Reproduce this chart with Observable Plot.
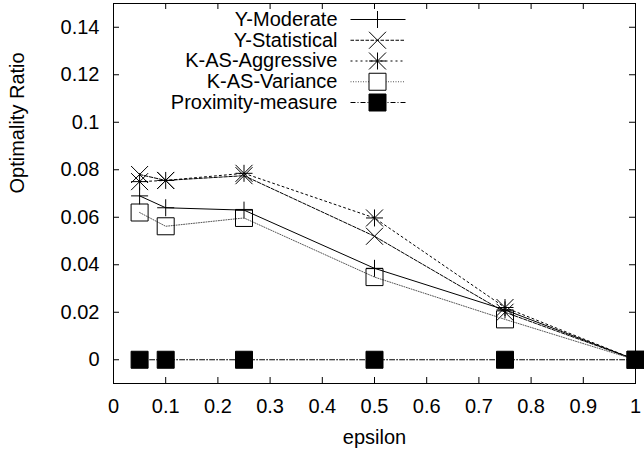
<!DOCTYPE html>
<html>
<head>
<meta charset="utf-8">
<script src="https://cdn.jsdelivr.net/npm/d3@7"></script>
<script src="https://cdn.jsdelivr.net/npm/@observablehq/plot@0.6"></script>
<style>
  html, body { margin: 0; padding: 0; background: white; }
  #chart { width: 644px; height: 451px; }
</style>
</head>
<body>
<div id="chart"></div>
<script>
// ---- data ----
const epsilon = [0.05, 0.1, 0.25, 0.5, 0.75, 1.0];
const seriesNames = ["Y-Moderate", "Y-Statistical", "K-AS-Aggressive", "K-AS-Variance", "Proximity-measure"];
const yModerate     = [0.069, 0.064, 0.063, 0.0385, 0.021, 0];
const yStatistical  = [0.078, 0.0755, 0.0775, 0.052, 0.020, 0];
const kasAggressive = [0.075, 0.0755, 0.0785, 0.0597, 0.022, 0];
const kasVariance   = [0.062, 0.0562, 0.0597, 0.0348, 0.017, 0];
const proximity     = [0, 0, 0, 0, 0, 0];
const xTicks = [0, 0.1, 0.2, 0.3, 0.4, 0.5, 0.6, 0.7, 0.8, 0.9, 1];
const yTicks = [0, 0.02, 0.04, 0.06, 0.08, 0.1, 0.12, 0.14];
const xLabel = "epsilon";
const yLabel = "Optimality Ratio";

// ---- symbols (gnuplot-like) ----
const H = 8.5;
const symPlus = {draw(c) { c.moveTo(-H, 0); c.lineTo(H, 0); c.moveTo(0, -H); c.lineTo(0, H); }};
const symTimes = {draw(c) { c.moveTo(-H, -H); c.lineTo(H, H); c.moveTo(-H, H); c.lineTo(H, -H); }};
const symStar = {draw(c) { symPlus.draw(c); symTimes.draw(c); }};
const symSquare = {draw(c) { c.moveTo(-H, -H); c.lineTo(H, -H); c.lineTo(H, H); c.lineTo(-H, H); c.closePath(); }};
const symSampleLine = {draw(c) { c.moveTo(-27, 0); c.lineTo(28, 0); }};

const values = [yModerate, yStatistical, kasAggressive, kasVariance, proximity];
const styles = [
  {dash: null,        symbol: symPlus,   fill: "none",  stroke: "black"},
  {dash: "3.5,1.5",   symbol: symTimes,  fill: "none",  stroke: "black"},
  {dash: "2,3",       symbol: symStar,   fill: "none",  stroke: "black"},
  {dash: "1,1.5",     symbol: symSquare, fill: "none",  stroke: "black"},
  {dash: "5,2,1,2",   symbol: symSquare, fill: "black", stroke: "black"}
];

const rows = [];
seriesNames.forEach((name, i) => {
  epsilon.forEach((e, j) => rows.push({series: name, i, x: e, y: values[i][j]}));
});

const FS = 20;
const marks = [];
// inward ticks
const pw = 644 - 113 - 9, ph = 451 - 3 - 68, tl = 6;
marks.push(Plot.ruleY(yTicks, {insetRight: pw - tl, stroke: "black"}));
marks.push(Plot.ruleY(yTicks, {insetLeft: pw - tl, stroke: "black"}));
marks.push(Plot.ruleX(xTicks, {insetTop: ph - tl, stroke: "black"}));
marks.push(Plot.ruleX(xTicks, {insetBottom: ph - tl, stroke: "black"}));

seriesNames.forEach((name, i) => {
  const st = styles[i];
  const data = rows.filter(d => d.i === i);
  marks.push(Plot.line(data, {x: "x", y: "y", stroke: i === 3 ? "#555" : "black", strokeWidth: 1, strokeDasharray: st.dash}));
  marks.push(Plot.dot(data, {x: "x", y: "y", r: 5, symbol: st.symbol, fill: st.fill, stroke: st.stroke, strokeWidth: 1}));
  // legend
  const rowDy = 16 + 20.75 * i;
  marks.push(Plot.text([name], {frameAnchor: "top-left", dx: 224, dy: rowDy, textAnchor: "end", lineAnchor: "middle", fill: "black", fontSize: FS}));
  marks.push(Plot.dot([name], {frameAnchor: "top-left", dx: 264, dy: rowDy, r: 5, symbol: symSampleLine, fill: "none", stroke: i === 3 ? "#555" : "black", strokeWidth: 1, strokeDasharray: st.dash}));
  marks.push(Plot.dot([name], {frameAnchor: "top-left", dx: 264, dy: rowDy, r: 5, symbol: st.symbol, fill: st.fill === "none" ? "white" : st.fill, stroke: st.stroke, strokeWidth: 1}));
});

marks.push(Plot.frame({stroke: "black", strokeWidth: 1}));
marks.push(Plot.axisY(yTicks, {tickSize: 0, tickPadding: 14, tickFormat: d => String(+d.toFixed(2)), fontSize: FS, label: null}));
marks.push(Plot.axisX(xTicks, {tickSize: 0, tickPadding: 15, tickFormat: d => String(+d.toFixed(1)), fontSize: FS, label: null}));
marks.push(Plot.text([xLabel], {frameAnchor: "bottom", dy: 53.6, lineAnchor: "middle", fontSize: FS, fill: "black"}));
marks.push(Plot.text([yLabel], {frameAnchor: "left", dx: -96.4, rotate: -90, lineAnchor: "middle", fontSize: FS, fill: "black"}));

const chart = Plot.plot({
  width: 644,
  height: 451,
  marginLeft: 113,
  marginRight: 9,
  marginTop: 3,
  marginBottom: 68,
  style: {fontFamily: "'Liberation Sans', Arial, sans-serif", fontSize: "20px", background: "white", color: "black"},
  x: {domain: [0, 1]},
  y: {domain: [-0.01, 0.15]},
  marks
});
document.getElementById("chart").appendChild(chart);
</script>
</body>
</html>
